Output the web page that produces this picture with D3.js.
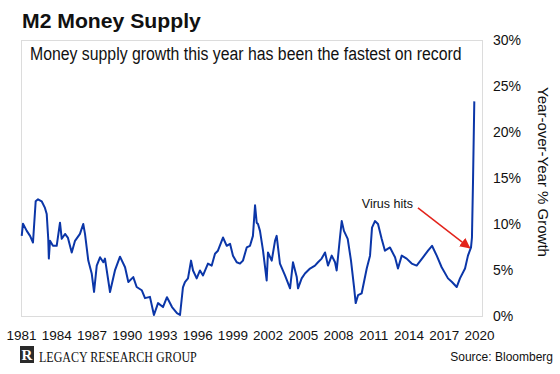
<!DOCTYPE html>
<html>
<head>
<meta charset="utf-8">
<script src="https://d3js.org/d3.v7.min.js"></script>
<style>
  body { margin: 0; background: #fff; }
  svg text { font-family: "Liberation Sans", Arial, sans-serif; fill: #111; }
</style>
</head>
<body>
<div id="chart"></div>
<script>
// M2 year-over-year growth (year as decimal, % growth)
const years = [
  1981.06, 1981.17, 1981.49, 1981.77, 1982.02, 1982.25, 1982.45, 1982.76, 1983.04, 1983.19,
  1983.32, 1983.37, 1983.47, 1983.72, 1984.04, 1984.32, 1984.47, 1984.75, 1985.00, 1985.32,
  1985.60, 1986.02, 1986.30, 1986.45, 1986.73, 1987.02, 1987.22, 1987.45, 1987.73, 1988.01,
  1988.15, 1988.58, 1989.00, 1989.43, 1989.86, 1990.14, 1990.56, 1990.85, 1991.28, 1991.56,
  1991.98, 1992.32, 1992.67, 1993.09, 1993.43, 1993.86, 1994.28, 1994.54, 1994.79, 1994.96,
  1995.22, 1995.48, 1995.65, 1995.96, 1996.24, 1996.50, 1996.92, 1997.24, 1997.52, 1997.77,
  1998.20, 1998.52, 1998.80, 1999.05, 1999.37, 1999.65, 1999.90, 2000.22, 2000.50, 2000.75,
  2000.93, 2001.07, 2001.18, 2001.35, 2001.61, 2001.92, 2002.03, 2002.35, 2002.63, 2002.77,
  2003.05, 2003.48, 2003.91, 2004.16, 2004.48, 2004.59, 2004.90, 2005.18, 2005.61, 2006.03,
  2006.29, 2006.60, 2006.89, 2007.14, 2007.46, 2007.74, 2007.88, 2008.16, 2008.31, 2008.50,
  2008.82, 2009.10, 2009.36, 2009.50, 2009.70, 2010.01, 2010.44, 2010.72, 2010.89, 2011.14,
  2011.40, 2011.71, 2011.99, 2012.42, 2012.85, 2013.10, 2013.42, 2013.84, 2014.27, 2014.69,
  2015.23, 2015.66, 2016.00, 2016.40, 2016.82, 2017.36, 2017.70, 2018.10, 2018.38, 2018.81,
  2019.06, 2019.32, 2019.40, 2019.49, 2019.60
];
const growth = [
  8.71, 10.03, 9.25, 8.71, 7.99, 12.47, 12.69, 12.47, 11.75, 11.08,
  8.39, 6.24, 8.17, 7.63, 7.63, 10.14, 8.39, 8.92, 8.49, 6.91,
  8.17, 8.92, 10.00, 8.92, 6.02, 4.62, 2.61, 5.48, 6.38, 5.84,
  6.24, 2.61, 4.95, 6.45, 5.30, 3.69, 4.23, 3.15, 2.80, 1.94,
  2.08, 0.11, 1.40, 0.97, 2.04, 0.97, 0.32, 0.11, 3.12, 3.69,
  4.09, 6.02, 4.95, 4.09, 4.95, 4.41, 5.70, 5.48, 6.77, 7.10,
  8.53, 7.63, 7.85, 6.56, 5.84, 5.70, 6.02, 7.45, 7.63, 8.71,
  12.04, 10.14, 10.00, 9.25, 7.10, 3.87, 6.91, 6.02, 8.17, 8.71,
  5.70, 4.41, 3.01, 5.84, 4.23, 3.01, 4.09, 4.62, 5.16, 5.48,
  5.84, 6.24, 6.91, 5.48, 6.56, 5.84, 4.95, 8.53, 10.32, 9.25,
  8.39, 6.02, 3.15, 1.40, 2.26, 2.47, 5.16, 6.56, 9.60, 10.32,
  10.00, 8.39, 7.10, 7.45, 6.38, 5.16, 6.56, 6.24, 5.70, 5.48,
  6.38, 7.10, 7.63, 6.56, 5.30, 4.09, 3.69, 3.15, 4.09, 5.16,
  6.56, 7.45, 8.53, 14.62, 23.33
];
const xTicks = [1981, 1984, 1987, 1990, 1993, 1996, 1999, 2002, 2005, 2008, 2011, 2014, 2017, 2020];
const yTicks = [0, 5, 10, 15, 20, 25, 30];
// annotation: label anchor and arrow (year, %)
const noteLabel = { year: 2012.2, value: 11.7, text: "Virus hits" };
const noteArrow = { fromYear: 2014.8, fromValue: 11.75, toYear: 2019.2, toValue: 7.4 };

const width = 560, height = 374;
const box = { left: 21, right: 482, top: 40, bottom: 316 };

const svg = d3.create("svg")
    .attr("width", width)
    .attr("height", height);
// attach early so text can be measured
document.getElementById("chart").appendChild(svg.node());

// squeeze a text horizontally to a given width (the source image is a bit condensed)
function fitText(sel, px, py, w) {
  const natural = sel.node().getComputedTextLength();
  sel.attr("transform", `translate(${px},${py}) scale(${w / natural},1)`);
}

const x = d3.scaleLinear()
    .domain([1981, 2020])
    .range([21, 479]);

const y = d3.scaleLinear()
    .domain([0, 30])
    .range([box.bottom, 40]);

// title
const title = svg.append("text")
    .attr("font-size", 21)
    .attr("font-weight", "bold")
    .text("M2 Money Supply");
fitText(title, 22, 28, 179);

// plot frame
svg.append("rect")
    .attr("x", box.left + 0.5).attr("y", box.top + 0.5)
    .attr("width", box.right - box.left).attr("height", box.bottom - box.top)
    .attr("fill", "none")
    .attr("stroke", "#dcdcdc");

const subtitle = svg.append("text")
    .attr("font-size", 19)
    .text("Money supply growth this year has been the fastest on record");
fitText(subtitle, 30, 60, 432);

// y axis on the right
svg.append("g")
    .attr("transform", `translate(${box.right},0)`)
    .call(d3.axisRight(y).tickValues(yTicks).tickSize(0).tickPadding(11).tickFormat(d => d + "%"))
    .call(g => g.select(".domain").remove())
    .call(g => g.selectAll("text")
        .attr("fill", "#111")
        .attr("font-size", 14)
        .style("font-family", "Liberation Sans, Arial, sans-serif"));

svg.append("text")
    .attr("transform", "translate(538,172) rotate(90)")
    .attr("text-anchor", "middle")
    .attr("font-size", 15)
    .text("Year-over-Year % Growth");

// x axis labels
svg.append("g")
    .attr("transform", `translate(0,${box.bottom})`)
    .call(d3.axisBottom(x).tickValues(xTicks).tickSize(0).tickPadding(14).tickFormat(d3.format("d")))
    .call(g => g.select(".domain").remove())
    .call(g => g.selectAll("text")
        .attr("fill", "#111")
        .attr("font-size", 13.5)
        .style("font-family", "Liberation Sans, Arial, sans-serif"));

// the series
const line = d3.line()
    .x((d, i) => x(years[i]))
    .y(d => y(d));

svg.append("path")
    .datum(growth)
    .attr("fill", "none")
    .attr("stroke", "#0b36a8")
    .attr("stroke-width", 2)
    .attr("stroke-linejoin", "round")
    .attr("d", line);

// annotation
svg.append("defs").append("marker")
    .attr("id", "head")
    .attr("viewBox", "0 0 10 10")
    .attr("refX", 9).attr("refY", 5)
    .attr("markerWidth", 7).attr("markerHeight", 7)
    .attr("orient", "auto")
  .append("path")
    .attr("d", "M0,0 L10,5 L0,10 z")
    .attr("fill", "#e3231b");

svg.append("line")
    .attr("x1", x(noteArrow.fromYear)).attr("y1", y(noteArrow.fromValue))
    .attr("x2", x(noteArrow.toYear)).attr("y2", y(noteArrow.toValue))
    .attr("stroke", "#e3231b")
    .attr("stroke-width", 1.5)
    .attr("marker-end", "url(#head)");

svg.append("text")
    .attr("x", x(noteLabel.year)).attr("y", y(noteLabel.value))
    .attr("text-anchor", "middle")
    .attr("font-size", 12.5)
    .text(noteLabel.text);

// footer
const logo = svg.append("g").attr("transform", "translate(20,346)");
logo.append("rect")
    .attr("width", 14).attr("height", 17)
    .attr("fill", "#2a2a2a");
logo.append("text")
    .attr("x", 7).attr("y", 14)
    .attr("text-anchor", "middle")
    .attr("font-size", 15)
    .attr("font-weight", "bold")
    .style("font-family", "Liberation Serif, Times New Roman, serif")
    .style("fill", "#fff")
    .text("R");

const brand = svg.append("text")
    .attr("font-size", 15)
    .style("font-family", "Liberation Serif, Times New Roman, serif")
    .text("LEGACY RESEARCH GROUP");
fitText(brand, 39, 362, 158);

svg.append("text")
    .attr("x", 553).attr("y", 361)
    .attr("text-anchor", "end")
    .attr("font-size", 12)
    .text("Source: Bloomberg");
</script>
</body>
</html>
